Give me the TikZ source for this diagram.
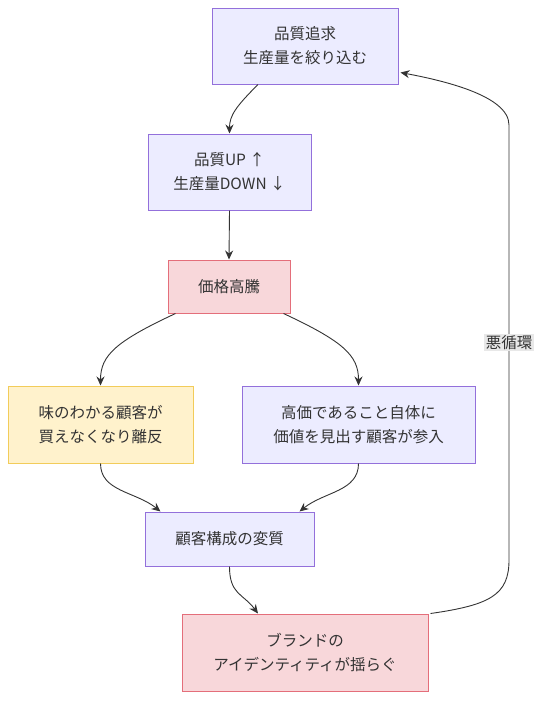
\documentclass[tikz,border=0pt]{standalone}
\usepackage{fontspec}
\setmainfont{Noto Sans CJK JP}
\usetikzlibrary{arrows.meta,calc}
\definecolor{txt}{HTML}{333333}
\definecolor{pfill}{HTML}{ECECFF}
\definecolor{pdraw}{HTML}{9370DB}
\definecolor{rfill}{HTML}{F8D7DA}
\definecolor{rdraw}{HTML}{E46E7A}
\definecolor{yfill}{HTML}{FFF2CC}
\definecolor{ydraw}{HTML}{F2CC5A}
\definecolor{lnk}{HTML}{333333}
\definecolor{lblbg}{HTML}{E8E8E8}
\tikzset{
  box/.style={draw=pdraw, fill=pfill, line width=1pt, inner sep=0pt, align=center, text=txt,
    font=\fontsize{15.5}{24}\selectfont},
  redbox/.style={box, draw=rdraw, fill=rfill},
  yelbox/.style={box, draw=ydraw, fill=yfill},
  link/.style={draw=lnk, line width=0.9pt, -{Stealth[length=9pt,width=8pt]}},
  lbl/.style={fill=lblbg, text=txt, inner sep=1.5pt, font=\fontsize{15.5}{17}\selectfont}
}
\begin{document}
\begin{tikzpicture}[x=1pt,y=-1pt]
\useasboundingbox (0,0) rectangle (549,710);
\node[box, minimum width=186pt, minimum height=76pt] (A) at (305,46) {品質追求\\生産量を絞り込む};
\node[box, minimum width=163pt, minimum height=76pt] (B) at (229.5,172) {品質UP ↑\\生産量DOWN ↓};
\node[redbox, minimum width=122pt, minimum height=53pt] (C) at (229,286.5) {価格高騰};
\node[yelbox, minimum width=185pt, minimum height=77pt] (D) at (100.5,424.5) {味のわかる顧客が\\買えなくなり離反};
\node[box, minimum width=233pt, minimum height=77pt] (E) at (358.5,424.5) {高価であること自体に\\価値を見出す顧客が参入};
\node[box, minimum width=169pt, minimum height=54pt] (F) at (229.5,539) {顧客構成の変質};
\node[redbox, minimum width=246pt, minimum height=77pt] (G) at (305,652.5) {ブランドの\\アイデンティティが揺らぐ};

\draw[link] ($(A.south)+(-47,0)$) .. controls +(-22,22) and +(0,-18) .. (B.north);
\draw[link] (B.south) -- (C.north);
\draw[link] ($(C.south west)+(8,0)$) .. controls +(-60,28) and +(0,-30) .. (D.north);
\draw[link] ($(C.south east)+(-7,0)$) .. controls +(60,28) and +(0,-30) .. (E.north);
\draw[link] (D.south) .. controls +(0,28) and +(-25,-20) .. ($(F.north)+(-69,0)$);
\draw[link] (E.south) .. controls +(0,28) and +(25,-20) .. ($(F.north)+(70,0)$);
\draw[link] (F.south) .. controls +(0,28) and +(-15,-20) .. ($(G.north)+(-47,0)$);
\coordinate (R1) at (509,560);
\coordinate (R2) at (509,125);
\draw[link] ($(G.north east)+(2,0)$) .. controls (490,605) and (509,595) .. (R1)
  -- node[lbl, pos=0.5] {悪循環} (R2)
  .. controls (509,95) and (440,80) .. ($(A.south east)+(2,-12)$);
\end{tikzpicture}
\end{document}
